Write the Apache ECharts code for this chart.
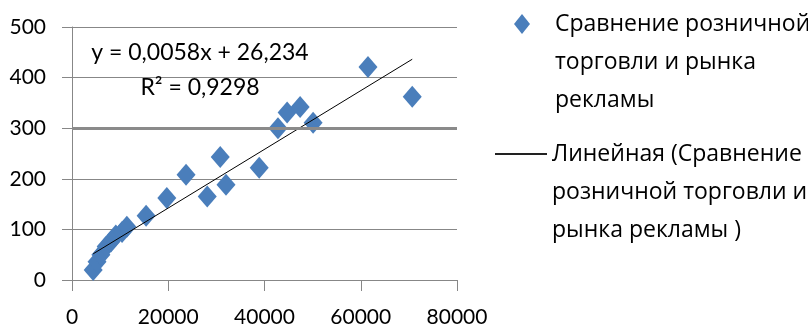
<!DOCTYPE html>
<html>
<head>
<meta charset="utf-8">
<script src="https://cdn.jsdelivr.net/npm/echarts@6/dist/echarts.min.js"></script>
<style>html,body{margin:0;padding:0;background:#fff}#c{width:808px;height:332px}</style>
</head>
<body>
<div id="c"></div>
<script>
// Retail trade (x) vs advertising market (y)
const retailX = [4400, 5200, 6000, 7100, 8100, 9100, 10400, 11400, 15400, 19700, 23700, 28100, 30800, 32000, 38900, 42800, 44700, 47400, 50100, 61500, 70700];
const adY     = [20,   36,   50,   66,   76,   88,   95,    105,   127,   162,   208,   165,   243,   188,   222,   300,   331,   342,   311,   421,   362];
const xTicks = [0, 20000, 40000, 60000, 80000];
const yTicks = [0, 100, 200, 300, 400, 500];
const trendSlope = 0.0058;
const trendIntercept = 26.234;
const trendLabel = ['y = 0,0058x + 26,234', 'R² = 0,9298'];
const seriesName = 'Сравнение розничной\nторговли и рынка\nрекламы';
const trendName = 'Линейная (Сравнение\nрозничной торговли и\nрынка рекламы )';

const points = retailX.map((x, i) => [x, adY[i]]);
const xMin = Math.min(...retailX), xMax = Math.max(...retailX);
const trend = [[xMin, trendIntercept + trendSlope * xMin], [xMax, trendIntercept + trendSlope * xMax]];

const numFont = 'Lato';
const txtFont = 'Open Sans';
const gray = '#878787';
const LH = 38;
// put the first line of a multi-line legend name level with its icon
const firstLineOnIcon = name => ' \n \n' + name;

const chart = echarts.init(document.getElementById('c'), null, {renderer: 'canvas'});
chart.setOption({
  animation: false,
  backgroundColor: '#fff',
  grid: {left: 72, right: 351, top: 27, bottom: 52, containLabel: false},
  xAxis: {
    type: 'value', min: xTicks[0], max: xTicks[xTicks.length - 1], interval: xTicks[1] - xTicks[0],
    axisLine: {show: true, onZero: false, lineStyle: {color: gray, width: 1}},
    axisTick: {show: true, length: 11, lineStyle: {color: gray}},
    splitLine: {show: false},
    axisLabel: {color: '#000', fontFamily: numFont, fontSize: 21, margin: 27, formatter: v => String(v)}
  },
  yAxis: {
    type: 'value', min: yTicks[0], max: yTicks[yTicks.length - 1], interval: yTicks[1] - yTicks[0],
    axisLine: {show: true, lineStyle: {color: gray, width: 1}},
    axisTick: {show: true, length: 10, lineStyle: {color: gray}},
    splitLine: {show: true, lineStyle: {color: gray, width: 1}},
    axisLabel: {color: '#000', fontFamily: numFont, fontSize: 21, margin: 26, formatter: v => String(v)}
  },
  legend: [
    {
      orient: 'vertical', left: 514, top: 24 - 2.5 * LH, padding: 0,
      itemWidth: 16, itemHeight: 20,
      data: [{name: seriesName, icon: 'diamond'}],
      formatter: firstLineOnIcon,
      textStyle: {fontFamily: txtFont, fontSize: 23, color: '#000', lineHeight: LH, padding: [0, 0, 0, 20]}
    },
    {
      orient: 'vertical', left: 495, top: 154 - 2.5 * LH, padding: 0,
      itemWidth: 52, itemHeight: 2,
      data: [{name: trendName, icon: 'rect', itemStyle: {color: '#222'}}],
      formatter: firstLineOnIcon,
      textStyle: {fontFamily: txtFont, fontSize: 23, color: '#000', lineHeight: LH}
    }
  ],
  graphic: [{
    type: 'text', x: 200, y: 70,
    style: {text: trendLabel.join('\n'), x: 0, y: 0, align: 'center', verticalAlign: 'middle',
            font: '23px Lato', lineHeight: 35, fill: '#000'},
    z: 10
  }],
  series: [
    {
      name: seriesName, type: 'scatter', data: points,
      symbol: 'diamond', symbolSize: [19, 22],
      itemStyle: {color: '#4A7EBB', opacity: 1},
      z: 3,
      markLine: {
        silent: true, symbol: 'none', label: {show: false},
        lineStyle: {color: '#8a8a8a', width: 3, type: 'solid'},
        data: [{yAxis: yTicks[3]}]
      }
    },
    {
      name: trendName, type: 'line', data: trend,
      symbol: 'none', showSymbol: false,
      lineStyle: {color: '#000', width: 1}, itemStyle: {color: '#000'},
      z: 4
    }
  ]
});
</script>
</body>
</html>
